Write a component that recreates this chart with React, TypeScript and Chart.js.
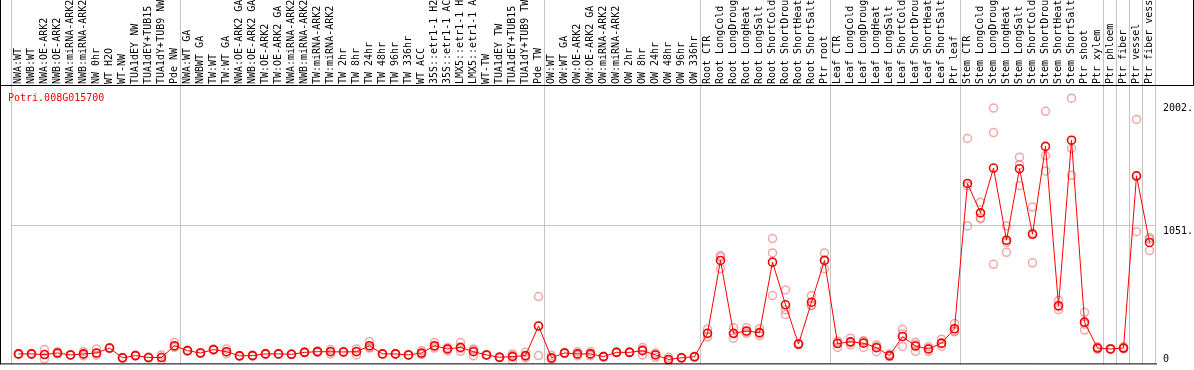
import React, { useEffect, useRef } from "react";
import { Chart, registerables } from "chart.js";

Chart.register(...registerables);

const chartTitle = "Potri.008G015700";

const categories = [
  "NWA:WT", "NWB:WT", "NWA:OE-ARK2", "NWB:OE-ARK2", "NWA:miRNA-ARK2", "NWB:miRNA-ARK2", "NW 0hr", "WT H2O", "WT-NW", "TUA1dEY NW", "TUA1dEY+TUB15 NW", "TUA1dY+TUB9 NW", "Pde NW",
  "NWA:WT GA", "NWBWT GA", "TW:WT", "TW:WT GA", "NWA:OE-ARK2 GA", "NWB:OE-ARK2 GA", "TW:OE-ARK2", "TW:OE-ARK2 GA", "NWA:miRNA-ARK2 GA", "NWB:miRNA-ARK2 GA", "TW:miRNA-ARK2", "TW:miRNA-ARK2 GA", "TW 2hr", "TW 8hr", "TW 24hr", "TW 48hr", "TW 96hr", "TW 336hr", "WT ACC", "35S::etr1-1 H2O", "35S::etr1-1 ACC", "LMX5::etr1-1 H2O", "LMX5::etr1-1 ACC", "WT-TW", "TUA1dEY TW", "TUA1dEY+TUB15 TW", "TUA1dY+TUB9 TW", "Pde TW",
  "OW:WT", "OW:WT GA", "OW:OE-ARK2", "OW:OE-ARK2 GA", "OW:miRNA-ARK2", "OW:miRNA-ARK2 GA", "OW 2hr", "OW 8hr", "OW 24hr", "OW 48hr", "OW 96hr", "OW 336hr",
  "Root CTR", "Root LongCold", "Root LongDrought", "Root LongHeat", "Root LongSalt", "Root ShortCold", "Root ShortDrought", "Root ShortHeat", "Root ShortSalt", "Ptr root",
  "Leaf CTR", "Leaf LongCold", "Leaf LongDrought", "Leaf LongHeat", "Leaf LongSalt", "Leaf ShortCold", "Leaf ShortDrought", "Leaf ShortHeat", "Leaf ShortSalt", "Ptr leaf",
  "Stem CTR", "Stem LongCold", "Stem LongDrought", "Stem LongHeat", "Stem LongSalt", "Stem ShortCold", "Stem ShortDrought", "Stem ShortHeat", "Stem ShortSalt", "Ptr shoot",
  "Ptr xylem", "Ptr phloem", "Ptr fiber", "Ptr vessel", "Ptr fiber vessel",
];

// index of the last category of each group (a separator is drawn after it)
const groupEnds = [12, 40, 52, 62, 72, 83, 84, 85, 86];

const meanValues = [
  60, 60, 55, 67, 52, 60, 67, 105, 30, 47, 32, 32, 123,
  85, 67, 93, 77, 45, 47, 60, 60, 57, 72, 77, 77, 75, 77, 123, 60, 60, 52, 67, 123, 98, 110, 77, 52, 34, 39, 47, 275,
  30, 67, 60, 60, 39, 72, 72, 85, 52, 17, 30, 38,
  219, 781, 219, 237, 224, 768, 439, 136, 459, 781,
  140, 153, 143, 108, 47, 194, 121, 98, 143, 254,
  1375, 1148, 1494, 937, 1489, 983, 1661, 432, 1709, 305,
  105, 98, 105, 1434, 920,
];

const replicate1 = [
  62, 63, 93, 77, 55, 77, 98, 108, 33, 50, 35, 52, 148,
  88, 70, 96, 98, 48, 50, 63, 62, 60, 75, 85, 93, 78, 98, 156, 62, 62, 55, 85, 148, 110, 148, 98, 56, 37, 60, 72, 502,
  47, 70, 77, 77, 42, 75, 75, 110, 55, 34, 33, 41,
  250, 819, 262, 262, 255, 950, 553, 140, 510, 839,
  150, 181, 160, 130, 60, 250, 150, 115, 174, 295,
  1722, 1231, 1957, 1047, 1578, 1193, 1932, 472, 2033, 381,
  115, 102, 115, 1869, 958,
];

const replicate2 = [
  56, 57, 22, 60, 50, 45, 50, 102, 27, 44, 30, 9, 110,
  82, 65, 90, 60, 43, 44, 57, 58, 55, 70, 70, 60, 72, 52, 105, 58, 58, 50, 60, 105, 85, 80, 45, 48, 31, 9, 30, 47,
  22, 64, 45, 45, 36, 70, 70, 52, 34, 5, 27, 35,
  190, 717, 181, 219, 200, 510, 364, 130, 430, 717,
  110, 130, 110, 77, 40, 118, 80, 80, 118, 230,
  1047, 1102, 751, 844, 1358, 763, 1472, 401, 1438, 244,
  95, 94, 100, 1003, 857,
];

const replicate3 = [
  60, 60, 55, 66, 52, 60, 65, 105, 30, 47, 32, 34, 120,
  85, 67, 93, 75, 45, 47, 60, 60, 57, 72, 77, 78, 75, 80, 110, 60, 60, 52, 57, 118, 99, 103, 88, 52, 34, 48, 40, 276,
  21, 67, 58, 58, 39, 72, 72, 93, 67, 12, 30, 38,
  217, 807, 214, 230, 217, 839, 400, 138, 437, 787,
  160, 148, 159, 117, 41, 214, 133, 99, 137, 237,
  1356, 1111, 1768, 920, 1520, 993, 1590, 423, 1646, 290,
  105, 98, 100, 1430, 945,
];

const yTickValues = [0, 1051, 2002];
const yTickLabels = ["0", "1051.", "2002."];
const yMin = -21;
const yMax = 2127;

const MONO = "'DejaVu Sans Mono', 'Liberation Mono', monospace";

const overlayPlugin = {
  id: "overlay",
  beforeDatasetsDraw(chart: any) {
    const { ctx, chartArea, scales } = chart;
    const xs = scales.x;
    const half = (xs.getPixelForValue(1) - xs.getPixelForValue(0)) / 2;
    ctx.save();
    ctx.strokeStyle = "#c4c4c4";
    ctx.lineWidth = 1;
    const edges = [-1, ...groupEnds, categories.length - 1];
    edges.forEach((i) => {
      const px = Math.round(xs.getPixelForValue(i) + half) - 0.5;
      ctx.beginPath();
      ctx.moveTo(px, 0);
      ctx.lineTo(px, chartArea.bottom);
      ctx.stroke();
    });
    ctx.restore();
  },
  afterDraw(chart: any) {
    const { ctx, chartArea, scales, width } = chart;
    const ys = scales.y;
    ctx.save();
    ctx.strokeStyle = "#000";
    ctx.lineWidth = 1;
    // header separator
    ctx.beginPath();
    ctx.moveTo(0, chartArea.top - 0.5);
    ctx.lineTo(width, chartArea.top - 0.5);
    ctx.stroke();
    // left border
    ctx.beginPath();
    ctx.moveTo(0.5, 0);
    ctx.lineTo(0.5, chartArea.bottom);
    ctx.stroke();
    // right header border
    ctx.beginPath();
    ctx.moveTo(width - 0.5, 0);
    ctx.lineTo(width - 0.5, chartArea.top);
    ctx.stroke();
    // bottom border
    ctx.beginPath();
    ctx.moveTo(0, chartArea.bottom - 0.5);
    ctx.lineTo(chartArea.right + 1, chartArea.bottom - 0.5);
    ctx.stroke();

    // title
    ctx.font = `10px ${MONO}`;
    ctx.fillStyle = "#ff0000";
    ctx.textAlign = "left";
    ctx.textBaseline = "alphabetic";
    ctx.fillText(chartTitle, 8, chartArea.top + 15);

    // y labels
    ctx.fillStyle = "#000";
    yTickValues.forEach((v, i) => {
      const py = ys.getPixelForValue(v);
      const base = v === 0 ? py : py + 8.3;
      ctx.fillText(yTickLabels[i], chartArea.right + 7, base);
    });
    ctx.restore();
  },
};

export default function App() {
  const canvasRef = useRef<HTMLCanvasElement | null>(null);

  useEffect(() => {
    document.body.style.margin = "0";
    document.body.style.overflow = "hidden";
    const canvas = canvasRef.current;
    if (!canvas) return;

    const repStyle = {
      type: "line" as const,
      showLine: false,
      pointRadius: 4,
      pointHoverRadius: 4,
      pointBorderWidth: 1.5,
      pointBorderColor: "rgba(232, 110, 110, 0.6)",
      pointBackgroundColor: "rgba(0,0,0,0)",
      borderColor: "rgba(232, 110, 110, 0.6)",
      order: 2,
    };

    const chart = new Chart(canvas, {
      type: "line",
      data: {
        labels: categories,
        datasets: [
          {
            label: "mean",
            data: meanValues,
            borderColor: "#ff0000",
            borderWidth: 1,
            pointRadius: 4,
            pointHoverRadius: 4,
            pointBorderWidth: 1.6,
            pointBorderColor: "#f00000",
            pointBackgroundColor: "rgba(0,0,0,0)",
            tension: 0,
            fill: false,
            order: 0,
          },
          { ...repStyle, label: "rep1", data: replicate1 },
          { ...repStyle, label: "rep2", data: replicate2 },
          { ...repStyle, label: "rep3", data: replicate3 },
        ],
      },
      options: {
        animation: false,
        responsive: true,
        maintainAspectRatio: false,
        layout: { padding: { left: 12, right: 0, top: 0, bottom: 1 } },
        plugins: {
          legend: { display: false },
          tooltip: { enabled: false },
          title: { display: false },
        },
        scales: {
          x: {
            type: "category",
            position: "top",
            offset: true,
            grid: { display: false, drawTicks: false },
            border: { display: false },
            ticks: {
              autoSkip: false,
              minRotation: 90,
              maxRotation: 90,
              padding: 2,
              labelOffset: 12,
              color: "#000",
              font: { family: MONO, size: 10 },
            },
            afterFit: (scale: any) => {
              scale.height = 86;
            },
          },
          y: {
            type: "linear",
            position: "right",
            min: yMin,
            max: yMax,
            border: { display: false },
            grid: {
              drawTicks: false,
              color: (c: any) => (c.tick && c.tick.value === 1051 ? "#c4c4c4" : "rgba(0,0,0,0)"),
            },
            ticks: { display: false },
            afterBuildTicks: (scale: any) => {
              scale.ticks = yTickValues.map((v) => ({ value: v }));
            },
            afterFit: (scale: any) => {
              scale.width = 38;
            },
          },
        },
      },
      plugins: [overlayPlugin],
    });

    return () => {
      chart.destroy();
    };
  }, []);

  return (
    <div style={{ position: "relative", width: 1194, height: 370 }}>
      <canvas ref={canvasRef} />
    </div>
  );
}
